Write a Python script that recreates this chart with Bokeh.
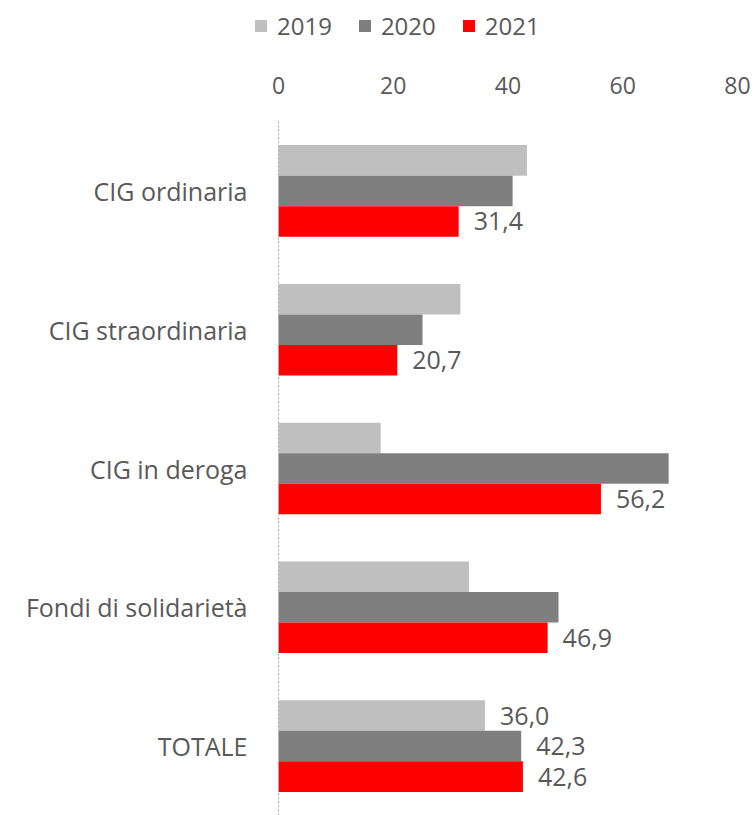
from bokeh.plotting import figure
from bokeh.layouts import column
from bokeh.models import ColumnDataSource, FactorRange, Range1d, FixedTicker, Legend, LegendItem, Span
from bokeh.transform import dodge
from bokeh.core.properties import value
from bokeh.embed import file_html
from bokeh.resources import INLINE

categories = ["CIG ordinaria", "CIG straordinaria", "CIG in deroga", "Fondi di solidarietà", "TOTALE"]
v2019 = [43.3, 31.7, 17.8, 33.2, 36.0]
v2020 = [40.8, 25.1, 68.0, 48.8, 42.3]
v2021 = [31.4, 20.7, 56.2, 46.9, 42.6]
lab2019 = ["", "", "", "", "36,0"]
lab2020 = ["", "", "", "", "42,3"]
lab2021 = ["31,4", "20,7", "56,2", "46,9", "42,6"]
years = ["2019", "2020", "2021"]
colors = ["#BFBFBF", "#7F7F7F", "#FF0000"]
ticks = [0, 20, 40, 60, 80]

FONT = "Open Sans"
TXT = "#595959"

src = ColumnDataSource(dict(cat=categories, v2019=v2019, v2020=v2020, v2021=v2021,
                            l2019=lab2019, l2020=lab2020, l2021=lab2021))

LEG_H = 50
LEFT = 253
X_START = -4.36   # room left of zero, like the reference's frame

# legend strip on top
pl = figure(width=755, height=LEG_H, output_backend="svg", toolbar_location=None,
            x_range=Range1d(0, 1), y_range=Range1d(0, 1), x_axis_type=None, y_axis_type=None,
            min_border_left=LEFT, min_border_right=18, min_border_top=0, min_border_bottom=0)
pl.outline_line_color = None
pl.xgrid.visible = False
pl.ygrid.visible = False
items = []
for yr, c in zip(years, colors):
    dummy = ColumnDataSource(dict(y=[-5], right=[0]))
    r = pl.hbar(y="y", right="right", left=0, height=0.1, source=dummy,
                fill_color=c, line_color=None)
    items.append(LegendItem(label=yr, renderers=[r]))
legend = Legend(items=items, orientation="horizontal", location=(0, 8),
                glyph_width=15, glyph_height=15, label_standoff=9, spacing=25,
                padding=0, margin=0, border_line_color=None, background_fill_alpha=0,
                label_text_font=FONT, label_text_font_size="24px", label_text_color=TXT)
pl.add_layout(legend, "center")

# main chart
p = figure(width=755, height=815 - LEG_H, output_backend="svg", toolbar_location=None,
           y_range=FactorRange(*list(reversed(categories))), x_range=Range1d(X_START, 80),
           x_axis_location="above", min_border_left=LEFT, min_border_right=18,
           min_border_top=121 - LEG_H, min_border_bottom=0)

bh = 0.22
series = [("v2019", "l2019", colors[0], bh),
          ("v2020", "l2020", colors[1], 0.0),
          ("v2021", "l2021", colors[2], -bh)]
for col, lcol, color, off in series:
    p.hbar(y=dodge("cat", off, range=p.y_range), right=col, left=0, height=bh,
           source=src, fill_color=color, line_color=None)
    p.text(x=col, y=dodge("cat", off, range=p.y_range), text=lcol, source=src,
           x_offset=15, text_baseline="middle", text_align="left",
           text_font=value(FONT), text_font_size="25px", text_color=TXT)

p.add_layout(Span(location=0, dimension="height", line_color="#A6A6A6",
                  line_dash="2 2", line_width=1))

p.xgrid.visible = False
p.ygrid.visible = False
p.outline_line_color = None

xa = p.xaxis[0]
xa.ticker = FixedTicker(ticks=ticks)
xa.axis_line_color = None
xa.major_tick_line_color = None
xa.minor_tick_line_color = None
xa.major_label_text_font = FONT
xa.major_label_text_font_size = "23px"
xa.major_label_text_color = TXT
xa.major_label_standoff = 22

ya = p.yaxis[0]
ya.axis_line_color = None
ya.major_tick_line_color = None
ya.minor_tick_line_color = None
ya.major_label_text_font = FONT
ya.major_label_text_font_size = "25px"
ya.major_label_text_color = TXT
ya.major_label_standoff = 0

layout = column(pl, p, spacing=0)
open("out.html", "w").write(file_html(layout, INLINE))
